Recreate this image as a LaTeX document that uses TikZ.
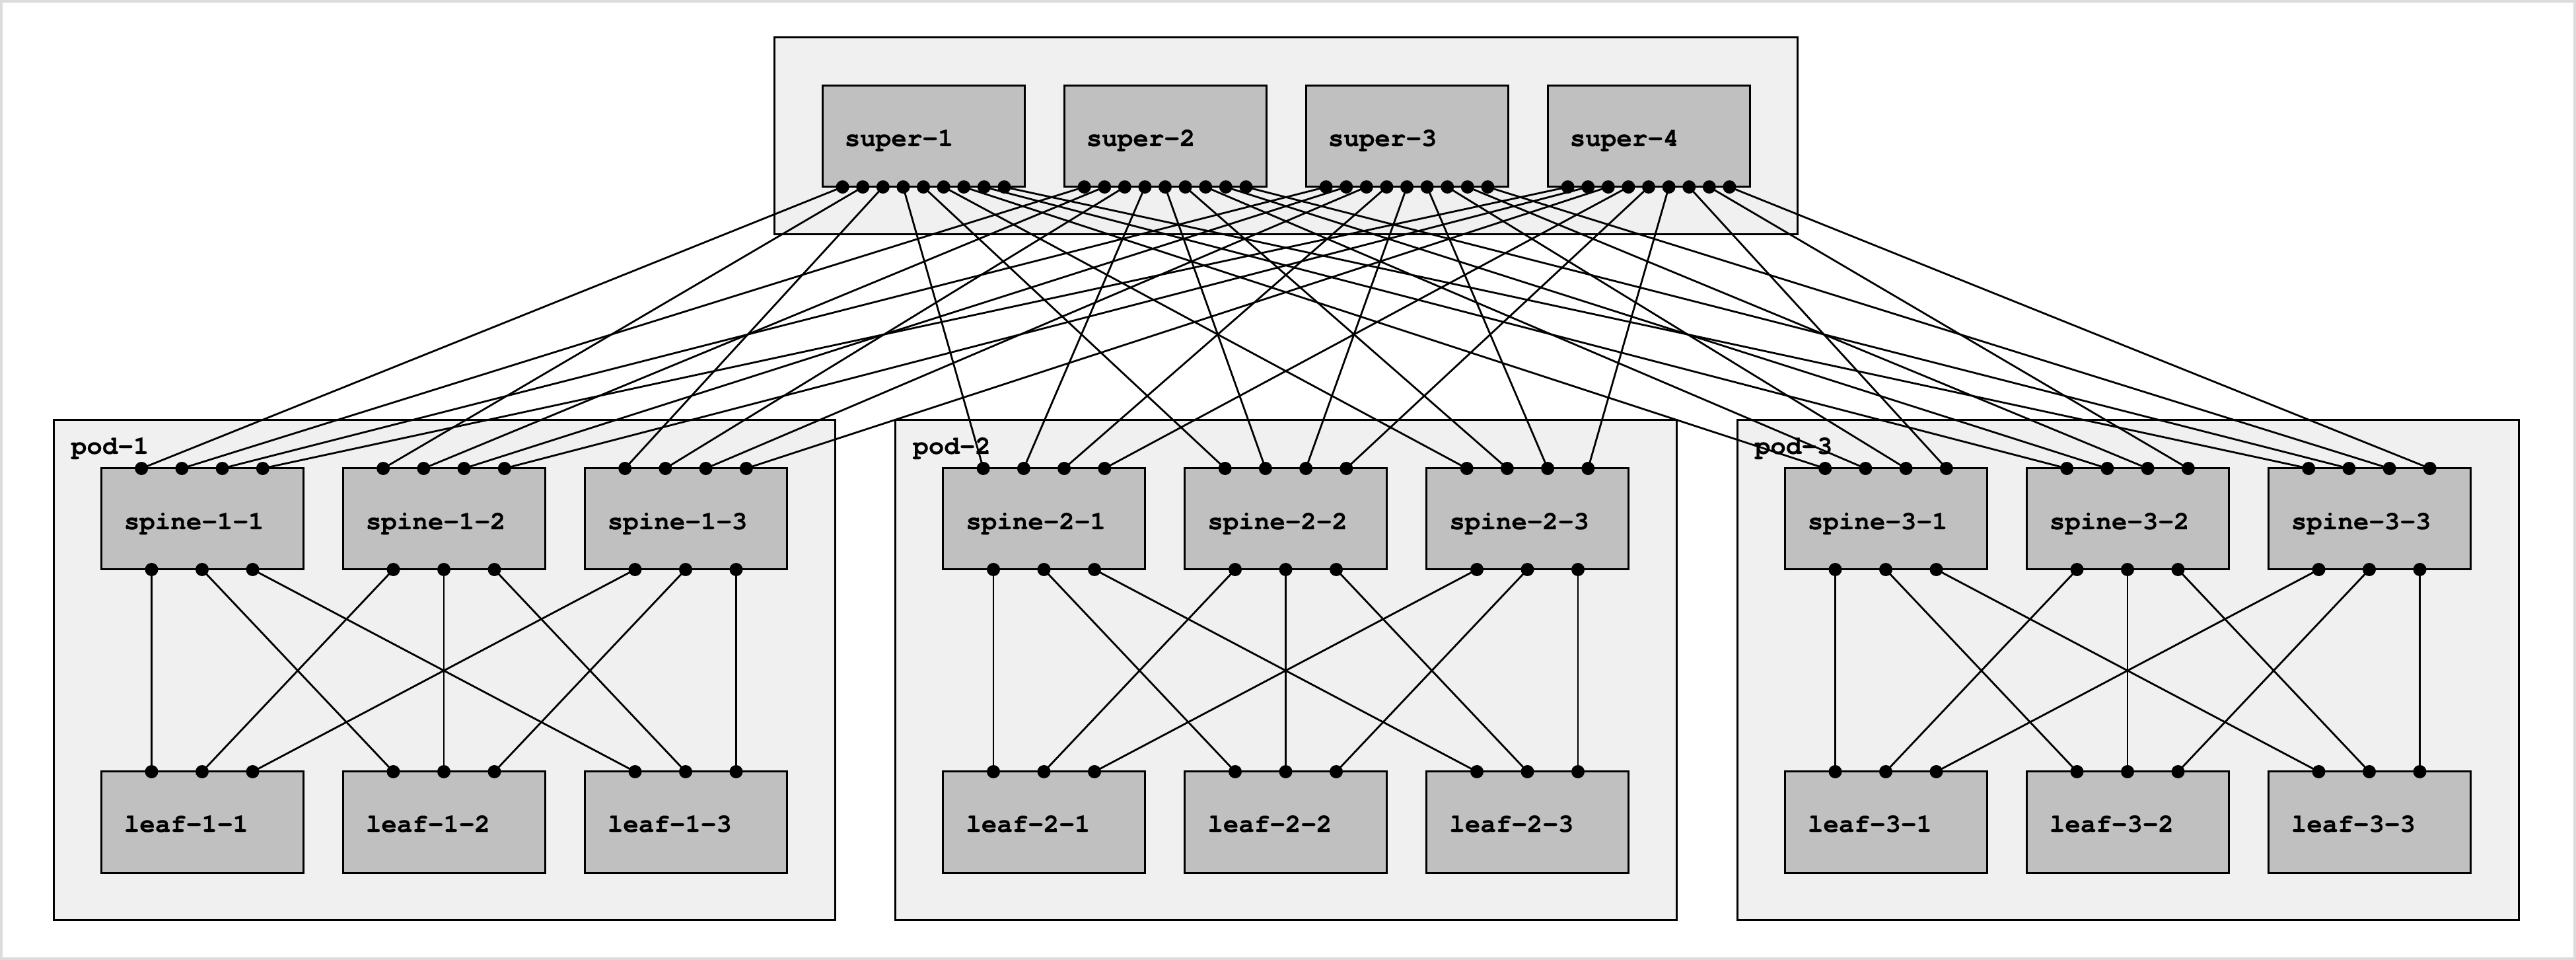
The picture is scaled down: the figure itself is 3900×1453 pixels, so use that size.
\documentclass[tikz,border=0pt]{standalone}
\usepackage{fontspec}
\newfontfamily\boxfont{texgyrecursor}[Extension=.otf, UprightFont=*-regular, BoldFont=*-bold, BoldFeatures={FakeBold=0.4}]
\usetikzlibrary{calc}
\definecolor{boxgray}{HTML}{C0C0C0}
\definecolor{podgray}{HTML}{F0F0F0}
\definecolor{framegray}{HTML}{DCDCDC}
\begin{document}
\begin{tikzpicture}[x=0.25pt,y=-0.25pt,
  container/.style={draw=black, fill=podgray, line width=0.75pt, rectangle, inner sep=0, outer sep=0, anchor=north west},
  devbox/.style={draw=black, fill=boxgray, line width=0.75pt, rectangle, inner sep=0, outer sep=0,
    minimum width=76.5pt, minimum height=38.25pt, anchor=north west},
  devlabel/.style={font=\boxfont\bfseries\fontsize{9.8}{12}\selectfont, inner sep=0, anchor=base west},
  link/.style={line width=0.7pt, draw=black},
  portdot/.style={fill=black}]
\useasboundingbox (0,0) rectangle (3900,1453);
\draw[framegray, line width=1pt] (2,2) rectangle (3898,1451);

% super container
\node[container, minimum width=387.25pt, minimum height=74.5pt] (supercont) at (1172,57) {};
% pods
\foreach \p in {1,2,3} {
  \pgfmathsetmacro\px{81+1274.5*(\p-1)}
  \node[container, minimum width=295.75pt, minimum height=189pt] (pod-\p) at (\px,636) {};
  \node[devlabel] (podlabel-\p) at (\px+26,687) {pod-\p};
}
% super boxes
\foreach \i in {1,...,4} {
  \pgfmathsetmacro\sx{1245+366*(\i-1)}
  \node[devbox] (super-\i) at (\sx,130) {};
  \node[devlabel] (superlabel-\i) at (\sx+33,221) {super-\i};
  \foreach \j in {1,...,9} {
    \coordinate (sup-\i-\j) at ($(super-\i.south west)!\j/10!(super-\i.south east)$);
  }
}
% spines and leaves
\foreach \p in {1,2,3} {
  \foreach \a in {1,2,3} {
    \pgfmathsetmacro\bx{81+1274.5*(\p-1)+72+366*(\a-1)}
    \node[devbox] (sp-\p-\a) at (\bx,709) {};
    \node[devlabel] (splabel-\p-\a) at (\bx+34,801) {spine-\p-\a};
    \node[devbox] (lf-\p-\a) at (\bx,1168) {};
    \node[devlabel] (lflabel-\p-\a) at (\bx+34,1259) {leaf-\p-\a};
    \foreach \k in {1,...,4} {
      \coordinate (spt-\p-\a-\k) at ($(sp-\p-\a.north west)!\k/5!(sp-\p-\a.north east)$);
    }
    \foreach \k in {1,2,3} {
      \coordinate (spb-\p-\a-\k) at ($(sp-\p-\a.south west)!\k/4!(sp-\p-\a.south east)$);
      \coordinate (lft-\p-\a-\k) at ($(lf-\p-\a.north west)!\k/4!(lf-\p-\a.north east)$);
    }
  }
}
% super to spine links
\foreach \i in {1,...,4} {
  \foreach \j in {1,...,9} {
    \pgfmathtruncatemacro\pp{int((\j-1)/3)+1}
    \pgfmathtruncatemacro\aa{\j-3*(\pp-1)}
    \draw[link] (sup-\i-\j) -- (spt-\pp-\aa-\i);
  }
}
% spine to leaf links
\foreach \p in {1,2,3} {
  \foreach \a in {1,2,3} {
    \foreach \b in {1,2,3} {
      \draw[link] (spb-\p-\a-\b) -- (lft-\p-\b-\a);
    }
  }
}
% port dots
\foreach \i in {1,...,4} {
  \foreach \j in {1,...,9} {
    \fill[portdot] (sup-\i-\j) circle (2.5pt);
  }
}
\foreach \p in {1,2,3} {
  \foreach \a in {1,2,3} {
    \foreach \k in {1,...,4} {
      \fill[portdot] (spt-\p-\a-\k) circle (2.5pt);
    }
    \foreach \k in {1,2,3} {
      \fill[portdot] (spb-\p-\a-\k) circle (2.5pt);
      \fill[portdot] (lft-\p-\a-\k) circle (2.5pt);
    }
  }
}
\end{tikzpicture}
\end{document}
